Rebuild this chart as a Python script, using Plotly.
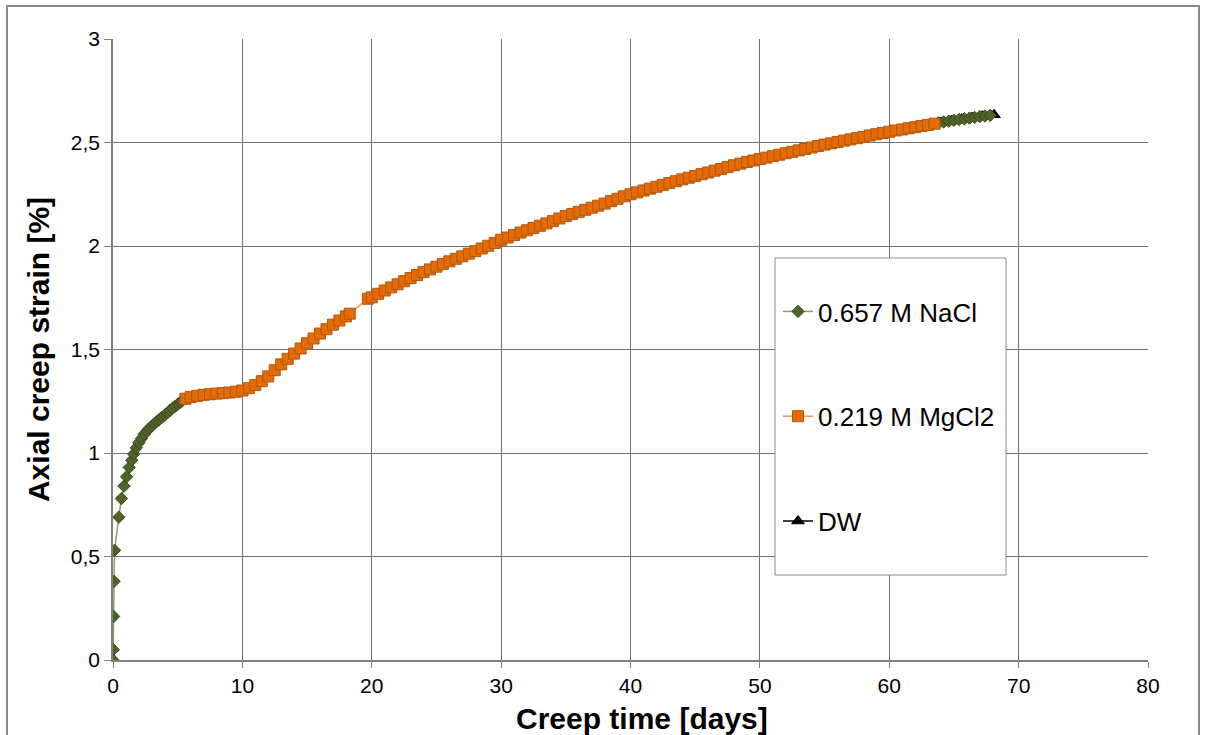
import plotly.graph_objects as go

# Creep test: axial strain vs time for the three pore fluids

# 0.657 M NaCl - first loading stage
nacl_t1 = [0, 0.02, 0.05, 0.08, 0.12, 0.45, 0.65, 0.85, 1.05, 1.25, 1.45, 1.6,
           1.8, 2.0, 2.2, 2.4, 2.6, 2.8, 3.0, 3.2, 3.4, 3.6, 3.8, 4.0, 4.2,
           4.4, 4.6, 4.8, 5.0, 5.2, 5.35]
nacl_e1 = [0, 0.05, 0.21, 0.38, 0.53, 0.69, 0.78, 0.84, 0.885, 0.93, 0.965, 0.995,
           1.025, 1.05, 1.07, 1.09, 1.105, 1.118, 1.13, 1.142, 1.153, 1.163, 1.173,
           1.183, 1.194, 1.206, 1.216, 1.225, 1.235, 1.245, 1.252]

# 0.657 M NaCl - last stage
nacl_t2 = [63.8, 64.2, 64.6, 65.0, 65.4, 65.8, 66.2, 66.6, 67.0, 67.4, 67.8]
nacl_e2 = [2.595, 2.599, 2.603, 2.607, 2.611, 2.614, 2.618, 2.621, 2.625, 2.628, 2.631]

# 0.219 M MgCl2
mgcl_t = [5.6, 6.0, 6.5, 7.0, 7.5, 8.0, 8.5, 9.0, 9.5, 10.0, 10.5, 11.0, 11.5,
          12.0, 12.5, 13.0, 13.5, 14.0, 14.5, 15.0, 15.5, 16.0, 16.5, 17.0, 17.5,
          18.0, 18.3,
          19.7, 20.0, 20.5, 21.0, 21.5, 22.0, 22.5, 23.0, 23.5, 24.0, 24.5, 25.0,
          25.5, 26.0, 26.5, 27.0, 27.5, 28.0, 28.5, 29.0, 29.5, 30.0, 30.5, 31.0,
          31.5, 32.0, 32.5, 33.0, 33.5, 34.0, 34.5, 35.0, 35.5, 36.0, 36.5, 37.0,
          37.5, 38.0, 38.5, 39.0, 39.5, 40.0, 40.5, 41.0, 41.5, 42.0, 42.5, 43.0,
          43.5, 44.0, 44.5, 45.0, 45.5, 46.0, 46.5, 47.0, 47.5, 48.0, 48.5, 49.0,
          49.5, 50.0, 50.5, 51.0, 51.5, 52.0, 52.5, 53.0, 53.5, 54.0, 54.5, 55.0,
          55.5, 56.0, 56.5, 57.0, 57.5, 58.0, 58.5, 59.0, 59.5, 60.0, 60.5, 61.0,
          61.5, 62.0, 62.5, 63.0, 63.5]
mgcl_e = [1.262, 1.270, 1.276, 1.281, 1.284, 1.287, 1.289, 1.292, 1.296, 1.302,
          1.313, 1.328, 1.347, 1.370, 1.400, 1.428, 1.455, 1.480, 1.505, 1.530,
          1.553, 1.577, 1.598, 1.620, 1.640, 1.660, 1.673,
          1.745, 1.752, 1.769, 1.785, 1.800, 1.815, 1.830, 1.845, 1.860, 1.874,
          1.887, 1.900, 1.913, 1.926, 1.938, 1.950, 1.963, 1.975, 1.988, 2.001,
          2.015, 2.030, 2.041, 2.053, 2.065, 2.076, 2.087, 2.098, 2.109, 2.120,
          2.133, 2.145, 2.155, 2.165, 2.175, 2.185, 2.195, 2.205, 2.217, 2.228,
          2.240, 2.250, 2.259, 2.268, 2.277, 2.286, 2.295, 2.304, 2.313, 2.322,
          2.330, 2.338, 2.347, 2.355, 2.364, 2.372, 2.381, 2.390, 2.398, 2.406,
          2.413, 2.420, 2.427, 2.434, 2.441, 2.448, 2.455, 2.462, 2.469, 2.476,
          2.483, 2.490, 2.496, 2.502, 2.509, 2.515, 2.521, 2.527, 2.534, 2.540,
          2.546, 2.552, 2.558, 2.563, 2.569, 2.574, 2.580, 2.585, 2.591]

# Distilled water
dw_t = [64.0, 64.8, 65.6, 66.4, 67.2, 68.1]
dw_e = [2.597, 2.605, 2.613, 2.620, 2.627, 2.634]

x_ticks = [0, 10, 20, 30, 40, 50, 60, 70, 80]
y_ticks = [0, 0.5, 1, 1.5, 2, 2.5, 3]

FONT = "Arial, Liberation Sans, sans-serif"
GRID = "#6f6f6f"

fig = go.Figure()

# DW drawn first so the NaCl diamonds sit on top of it
fig.add_trace(go.Scatter(
    x=dw_t, y=dw_e, mode="lines+markers", name="DW",
    legendgroup="dw", legendrank=3,
    line=dict(color="#000000", width=1.5),
    marker=dict(symbol="triangle-up", size=11, color="#000000",
                line=dict(color="#000000", width=1)),
))

fig.add_trace(go.Scatter(
    x=nacl_t1 + [None] + nacl_t2, y=nacl_e1 + [None] + nacl_e2,
    mode="lines+markers", name="0.657 M NaCl",
    legendgroup="nacl", legendrank=1, connectgaps=False,
    line=dict(color="#8AA05A", width=1.5),
    marker=dict(symbol="diamond", size=9.5, color="#4F6228",
                line=dict(color="#3A4A1C", width=1)),
))

fig.add_trace(go.Scatter(
    x=mgcl_t, y=mgcl_e, mode="lines+markers", name="0.219 M MgCl2",
    legendgroup="mgcl", legendrank=2,
    line=dict(color="#F79646", width=1.5),
    marker=dict(symbol="square", size=11, color="#E36C09",
                line=dict(color="#B4550A", width=1)),
))

L, R, T, B = 113, 57, 39, 75
W, H = 1205, 735
pw, ph = W - L - R, H - T - B


def px_x(px):
    return (px - L) / pw


def px_y(py):
    return (H - B - py) / ph


fig.update_layout(
    width=W, height=H,
    margin=dict(l=L, r=R, t=T, b=B, pad=0),
    paper_bgcolor="white", plot_bgcolor="white",
    separators=",.",
    font=dict(family=FONT, color="#000000"),
    showlegend=True,
    legend=dict(
        x=px_x(778), y=px_y(288), xanchor="left", yanchor="top",
        bgcolor="rgba(0,0,0,0)", borderwidth=0,
        font=dict(family=FONT, size=26, color="#000000"),
        traceorder="grouped", tracegroupgap=68,
    ),
    xaxis=dict(
        range=[0, 80], tickvals=x_ticks, showgrid=True,
        gridcolor=GRID, gridwidth=1, zeroline=False,
        showline=True, linecolor="#808080", linewidth=1.5,
        ticks="outside", ticklen=6, tickcolor="#808080",
        tickfont=dict(family=FONT, size=21),
    ),
    yaxis=dict(
        range=[0, 3], tickvals=y_ticks, showgrid=True,
        gridcolor=GRID, gridwidth=1, zeroline=False,
        showline=True, linecolor="#808080", linewidth=1.5,
        ticks="outside", ticklen=7, tickcolor="#808080",
        tickfont=dict(family=FONT, size=21),
        title=dict(text="<b>Axial creep strain [%]</b>", standoff=12,
                   font=dict(family=FONT, size=30)),
    ),
    annotations=[
        dict(text="<b>Creep time [days]</b>", xref="paper", yref="paper",
             x=px_x(642), y=px_y(718), xanchor="center", yanchor="middle",
             showarrow=False, font=dict(family=FONT, size=30, color="#000000")),
    ],
    shapes=[
        # legend box
        dict(type="rect", xref="paper", yref="paper", layer="above",
             x0=px_x(775), x1=px_x(1006), y0=px_y(575), y1=px_y(258),
             fillcolor="white", line=dict(color="#8c8c8c", width=1)),
        # chart frame
        dict(type="rect", xref="paper", yref="paper", layer="below",
             x0=px_x(7), x1=px_x(1199), y0=px_y(745), y1=px_y(6),
             fillcolor="rgba(0,0,0,0)", line=dict(color="#8c8c8c", width=2)),
    ],
)

fig.write_html("out.html")
